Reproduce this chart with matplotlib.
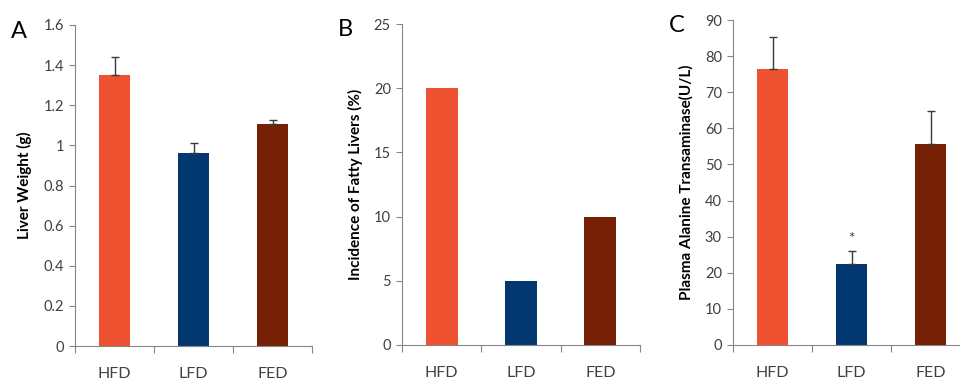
import matplotlib
matplotlib.use("Agg")
import matplotlib.pyplot as plt
import matplotlib.transforms as mtransforms
import numpy as np

plt.rcParams['font.family'] = ['Lato', 'DejaVu Sans']

groups = ['HFD', 'LFD', 'FED']
bar_colors = ['#EE5230', '#033770', '#762006']

liver_weight = [1.35, 0.96, 1.105]
liver_weight_err = [0.09, 0.05, 0.02]

fatty_incidence = [20, 5, 10]

alt_values = [76.3, 22.5, 55.8]
alt_err = [9.0, 3.6, 9.0]

# 面板布局 (像素): left, right, top, bottom
W, H = 960, 381
panels = [
    dict(box=(75, 312, 25, 346), vals=liver_weight, err=liver_weight_err,
         ylim=1.6, yticks=[0, 0.2, 0.4, 0.6, 0.8, 1, 1.2, 1.4, 1.6],
         ylabels=['0', '0.2', '0.4', '0.6', '0.8', '1', '1.2', '1.4', '1.6'],
         ylabel='Liver Weight (g)', letter='A'),
    dict(box=(402, 640, 24, 345), vals=fatty_incidence, err=None,
         ylim=25, yticks=[0, 5, 10, 15, 20, 25], ylabels=None,
         ylabel='Incidence of Fatty Livers (%)', letter='B'),
    dict(box=(733, 970, 20, 345), vals=alt_values, err=alt_err,
         ylim=90, yticks=list(range(0, 91, 10)), ylabels=None,
         ylabel='Plasma Alanine Transaminase(U/L)', letter='C'),
]

fig = plt.figure(figsize=(W / 100, H / 100), dpi=100)
axis_color = '#868686'
text_color = '#404040'

for p in panels:
    l, r, t, b = p['box']
    ax = fig.add_axes([l / W, (H - b) / H, (r - l) / W, (b - t) / H])
    x = np.arange(len(groups))
    ax.bar(x, p['vals'], width=0.4, color=bar_colors, zorder=2)
    if p['err'] is not None:
        ax.errorbar(x, p['vals'], yerr=[np.zeros(len(x)), p['err']], fmt='none',
                    ecolor='#3a3a3a', elinewidth=1, capsize=3, capthick=1, zorder=3)
    ax.set_xlim(-0.5, 2.5)
    ax.set_ylim(0, p['ylim'])
    ax.set_yticks(p['yticks'])
    if p['ylabels'] is not None:
        ax.set_yticklabels(p['ylabels'])
    ax.set_xticks([-0.5, 0.5, 1.5, 2.5])
    ax.set_xticklabels([])
    ax.tick_params(axis='x', direction='out', length=5, color=axis_color)
    ax.tick_params(axis='y', direction='out', length=4, color=axis_color, labelsize=10.5,
                   labelcolor=text_color, pad=4)
    # 分类标签放在轴线下方约 32 像素处 (基线)
    trans = mtransforms.offset_copy(ax.get_xaxis_transform(), fig=fig, x=0, y=-32, units='dots')
    for xi, g in zip(x, groups):
        ax.text(xi, 0, g, transform=trans, ha='center', va='baseline', fontsize=11.5,
                color=text_color)
    for s in ['top', 'right']:
        ax.spines[s].set_visible(False)
    for s in ['left', 'bottom']:
        ax.spines[s].set_color(axis_color)
    ax.set_ylabel(p['ylabel'], fontsize=11, fontweight='bold', color='black', labelpad=8)
    fig.text((l - 64) / W, (H - t - 6) / H, p['letter'], fontsize=17, color='black',
             ha='left', va='center')

ax.text(1, 26 + 1.5, '*', ha='center', va='bottom', fontsize=11, color=text_color)

fig.savefig('out.png', dpi=100)
